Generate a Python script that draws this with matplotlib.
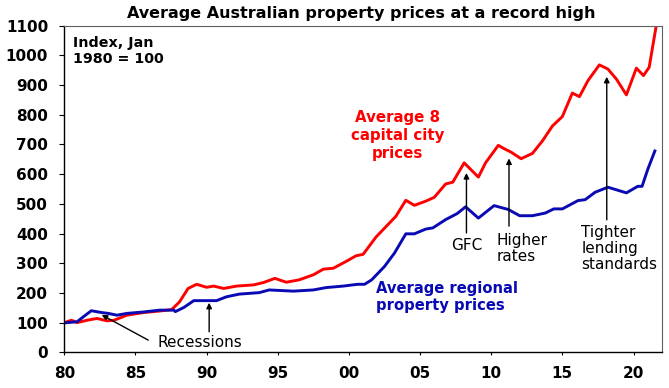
import matplotlib
matplotlib.use("Agg")
import matplotlib.pyplot as plt

# ==================================================
# DATA (index, Jan 1980 = 100)
# ==================================================
capital_years = [1980.0, 1980.5, 1980.9, 1981.6, 1982.3, 1983.0, 1983.5, 1984.4, 1985.6,
                 1986.7, 1987.55, 1988.1, 1988.7, 1989.3, 1990.0, 1990.5, 1991.2, 1992.1,
                 1993.3, 1994.0, 1994.8, 1995.6, 1996.5, 1997.5, 1998.2, 1998.9, 1999.8,
                 2000.5, 2001.0, 2001.9, 2002.9, 2003.3, 2004.0, 2004.6, 2005.4, 2006.0,
                 2006.8, 2007.3, 2008.1, 2009.1, 2009.6, 2010.5, 2010.9, 2011.4, 2012.1,
                 2012.9, 2013.6, 2014.3, 2015.0, 2015.7, 2016.2, 2016.8, 2017.6, 2018.2,
                 2018.8, 2019.5, 2020.2, 2020.7, 2021.1, 2021.6]
capital_vals = [100, 108, 100, 108, 114, 106, 108, 125, 134,
                139, 144, 170, 215, 229, 219, 223, 215, 223,
                227, 235, 249, 236, 244, 261, 280, 283, 306,
                325, 330, 388, 438, 458, 512, 495, 509, 522,
                567, 573, 638, 590, 638, 697, 686, 674, 652,
                670, 712, 762, 794, 873, 861, 915, 968, 954,
                920, 867, 957, 932, 960, 1101]

regional_years = [1980.0, 1980.9, 1981.35, 1981.9, 1982.6, 1983.1, 1983.7, 1984.4, 1985.6,
                  1986.7, 1987.7, 1987.8, 1988.4, 1989.1, 1990.1, 1990.7, 1991.4, 1992.3,
                  1993.7, 1994.4, 1996.1, 1997.5, 1998.4, 1999.6, 2000.6, 2001.1, 2001.6,
                  2002.5, 2003.2, 2004.0, 2004.6, 2005.4, 2005.9, 2006.8, 2007.6, 2008.2,
                  2009.1, 2010.2, 2011.2, 2012.0, 2012.9, 2013.8, 2014.4, 2015.0, 2016.1,
                  2016.6, 2017.3, 2018.2, 2019.5, 2020.3, 2020.6, 2021.0, 2021.5]
regional_vals = [99, 103, 120, 140, 134, 131, 125, 131, 136,
                 142, 142, 137, 151, 174, 174, 174, 187, 196,
                 201, 210, 206, 210, 218, 223, 229, 229, 244,
                 289, 334, 399, 399, 415, 419, 447, 467, 490,
                 452, 494, 481, 460, 460, 469, 483, 483, 511,
                 514, 539, 556, 537, 559, 559, 616, 678]

x_ticks = [1980, 1985, 1990, 1995, 2000, 2005, 2010, 2015, 2020]
x_labels = ["80", "85", "90", "95", "00", "05", "10", "15", "20"]
y_ticks = list(range(0, 1101, 100))

RED = "#FF0000"
BLUE = "#0A0AB4"

fig = plt.figure(figsize=(6.69, 3.88), dpi=100)
ax = fig.add_axes([0.0961, 0.0920, 0.9895 - 0.0961, 0.9338 - 0.0920])

ax.plot(capital_years, capital_vals, color=RED, lw=2.1, solid_joinstyle="round")
ax.plot(regional_years, regional_vals, color=BLUE, lw=2.1, solid_joinstyle="round")

ax.set_xlim(1980, 2022)
ax.set_ylim(0, 1100)
ax.set_xticks(x_ticks)
ax.set_xticklabels(x_labels)
ax.set_yticks(y_ticks)

for lab in ax.get_xticklabels() + ax.get_yticklabels():
    lab.set_fontweight("bold")
    lab.set_fontsize(11)
ax.tick_params(axis="y", direction="out", length=3.6, width=0.8, pad=8)
ax.tick_params(axis="x", direction="out", length=2, width=0.8, pad=8)

for side in ("left", "bottom"):
    ax.spines[side].set_color("black")
    ax.spines[side].set_linewidth(1.0)
for side in ("top", "right"):
    ax.spines[side].set_color("#606060")
    ax.spines[side].set_linewidth(0.8)

# Title
fig.text(0.54, 0.965, "Average Australian property prices at a record high",
         ha="center", va="center", fontsize=11.5, fontweight="bold")

# Labels
ax.text(1980.59, 1016, "Index, Jan\n1980 = 100", ha="left", va="center",
        fontsize=10.3, fontweight="bold", linespacing=1.2)
ax.text(2003.44, 729, "Average 8\ncapital city\nprices", ha="center", va="center",
        fontsize=10.8, fontweight="bold", color=RED, linespacing=1.25)
ax.text(2001.89, 186, "Average regional\nproperty prices", ha="left", va="center",
        fontsize=10.6, fontweight="bold", color=BLUE, linespacing=1.15)

# Event annotations
arrow = dict(arrowstyle="-|>", color="black", lw=1.0, mutation_scale=8, shrinkA=0, shrinkB=0)
ax.annotate("", xy=(1982.63, 126), xytext=(1985.9, 41), arrowprops=arrow)
ax.annotate("", xy=(1990.18, 167), xytext=(1990.18, 69), arrowprops=arrow)
ax.text(1986.52, 32, "Recessions", ha="left", va="center", fontsize=11)

ax.annotate("", xy=(2008.26, 604), xytext=(2008.26, 402), arrowprops=arrow)
ax.text(2008.28, 359, "GFC", ha="center", va="center", fontsize=11)

ax.annotate("", xy=(2011.25, 653), xytext=(2011.25, 425), arrowprops=arrow)
ax.text(2010.39, 350, "Higher\nrates", ha="left", va="center", fontsize=11, linespacing=1.1)

ax.annotate("", xy=(2018.12, 928), xytext=(2018.12, 446), arrowprops=arrow)
ax.text(2016.34, 350, "Tighter\nlending\nstandards", ha="left", va="center",
        fontsize=11, linespacing=1.1)

fig.savefig("out.png", dpi=100)
